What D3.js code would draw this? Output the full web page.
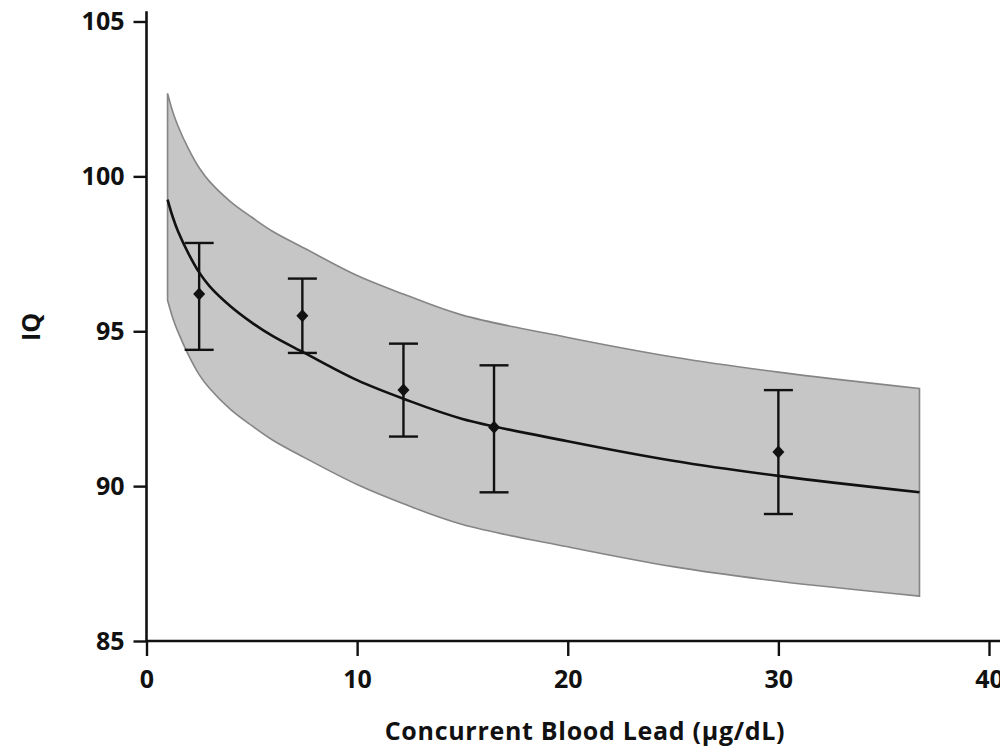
<!DOCTYPE html>
<html>
<head>
<meta charset="utf-8">
<script src="https://cdn.jsdelivr.net/npm/d3@7/dist/d3.min.js"></script>
<style>
  html, body { margin: 0; padding: 0; background: #fff; }
  svg text { font-family: "Open Sans", "Noto Sans", sans-serif; font-weight: 700; fill: #111; }
</style>
</head>
<body>
<svg id="chart" width="1000" height="746"></svg>
<script>
// ---- data ----
const curveX     = [1, 1.25, 1.5, 2, 2.5, 3, 4, 5, 6, 7.5, 10, 12.2, 15, 20, 25, 30, 36.7];
const fitIQ      = [99.25, 98.68, 98.22, 97.5, 96.9, 96.45, 95.8, 95.28, 94.84, 94.3, 93.42, 92.82, 92.17, 91.45, 90.82, 90.33, 89.8];
const upperIQ    = [102.68, 102.08, 101.62, 100.88, 100.28, 99.83, 99.18, 98.68, 98.22, 97.68, 96.8, 96.2, 95.52, 94.8, 94.17, 93.68, 93.15];
const lowerIQ    = [96.0, 95.42, 94.97, 94.22, 93.6, 93.15, 92.47, 91.95, 91.48, 90.92, 90.05, 89.43, 88.76, 88.04, 87.4, 86.93, 86.45];

const groupLead  = [2.5, 7.4, 12.2, 16.5, 30];
const groupIQ    = [96.2, 95.5, 93.1, 91.9, 91.1];
const groupHigh  = [97.85, 96.7, 94.6, 93.9, 93.1];
const groupLow   = [94.4, 94.3, 91.6, 89.8, 89.1];

const xTicks = [0, 10, 20, 30, 40];
const yTicks = [85, 90, 95, 100, 105];

// ---- layout ----
const svg = d3.select("#chart");
const x = d3.scaleLinear().domain([0, 40]).range([146.5, 989]);
const y = d3.scaleLinear().domain([85, 105]).range([641, 21.5]);
const smooth = d3.curveCatmullRom.alpha(0.5);

// band
const bandData = curveX.map((v, i) => ({x: v, lo: lowerIQ[i], hi: upperIQ[i]}));
const area = d3.area()
  .x(d => x(d.x)).y0(d => y(d.lo)).y1(d => y(d.hi))
  .curve(smooth);
svg.append("path")
  .datum(bandData)
  .attr("d", d => area(d) + "Z")
  .attr("fill", "#c6c6c6")
  .attr("stroke", "#858585")
  .attr("stroke-width", 1.6)
  .attr("stroke-linejoin", "miter");

// fitted line
const line = d3.line().x(d => x(d.x)).y(d => y(d.v)).curve(smooth);
svg.append("path")
  .datum(curveX.map((v, i) => ({x: v, v: fitIQ[i]})))
  .attr("d", line)
  .attr("fill", "none")
  .attr("stroke", "#111")
  .attr("stroke-width", 2.6);

// error bars
const groups = groupLead.map((v, i) => ({x: v, m: groupIQ[i], hi: groupHigh[i], lo: groupLow[i]}));
const capHalf = 14.5;
const eb = svg.append("g").attr("stroke", "#111").attr("stroke-width", 2.4);
groups.forEach(d => {
  eb.append("line").attr("x1", x(d.x)).attr("x2", x(d.x)).attr("y1", y(d.hi)).attr("y2", y(d.lo));
  eb.append("line").attr("x1", x(d.x) - capHalf).attr("x2", x(d.x) + capHalf).attr("y1", y(d.hi)).attr("y2", y(d.hi));
  eb.append("line").attr("x1", x(d.x) - capHalf).attr("x2", x(d.x) + capHalf).attr("y1", y(d.lo)).attr("y2", y(d.lo));
});
svg.append("g").selectAll("path")
  .data(groups).join("path")
  .attr("transform", d => `translate(${x(d.x)},${y(d.m)})`)
  .attr("d", "M0,-6.5L6,0L0,6.5L-6,0Z")
  .attr("fill", "#111");

// axes
const fontSize = 25;
const xAxis = svg.append("g")
  .attr("transform", `translate(0,${y(85)})`)
  .call(d3.axisBottom(x).tickValues(xTicks).tickSize(15).tickPadding(14).tickSizeOuter(0));
xAxis.select(".domain").remove();
const yAxis = svg.append("g")
  .attr("transform", `translate(${x(0)},0)`)
  .call(d3.axisLeft(y).tickValues(yTicks).tickSize(13).tickPadding(9).tickSizeOuter(0));
yAxis.select(".domain").remove();
[xAxis, yAxis].forEach(g => {
  g.selectAll(".tick line").attr("stroke", "#111").attr("stroke-width", 2.4);
  g.selectAll(".tick text").attr("font-size", fontSize).attr("fill", "#111")
    .style("font-family", '"Open Sans", sans-serif').style("font-weight", 700);
});
// axis lines
svg.append("line").attr("x1", x(0)).attr("x2", 1000).attr("y1", y(85)).attr("y2", y(85))
  .attr("stroke", "#111").attr("stroke-width", 2.6);
svg.append("line").attr("x1", x(0)).attr("x2", x(0)).attr("y1", y(105.33)).attr("y2", y(85))
  .attr("stroke", "#111").attr("stroke-width", 2.6);

// titles
svg.append("text")
  .attr("x", 585).attr("y", 740)
  .attr("text-anchor", "middle")
  .attr("font-size", 25)
  .attr("letter-spacing", 0.7)
  .text("Concurrent Blood Lead (µg/dL)");
svg.append("text")
  .attr("transform", "translate(40,327) rotate(-90)")
  .attr("text-anchor", "middle")
  .attr("font-size", 25)
  .text("IQ");
</script>
</body>
</html>
